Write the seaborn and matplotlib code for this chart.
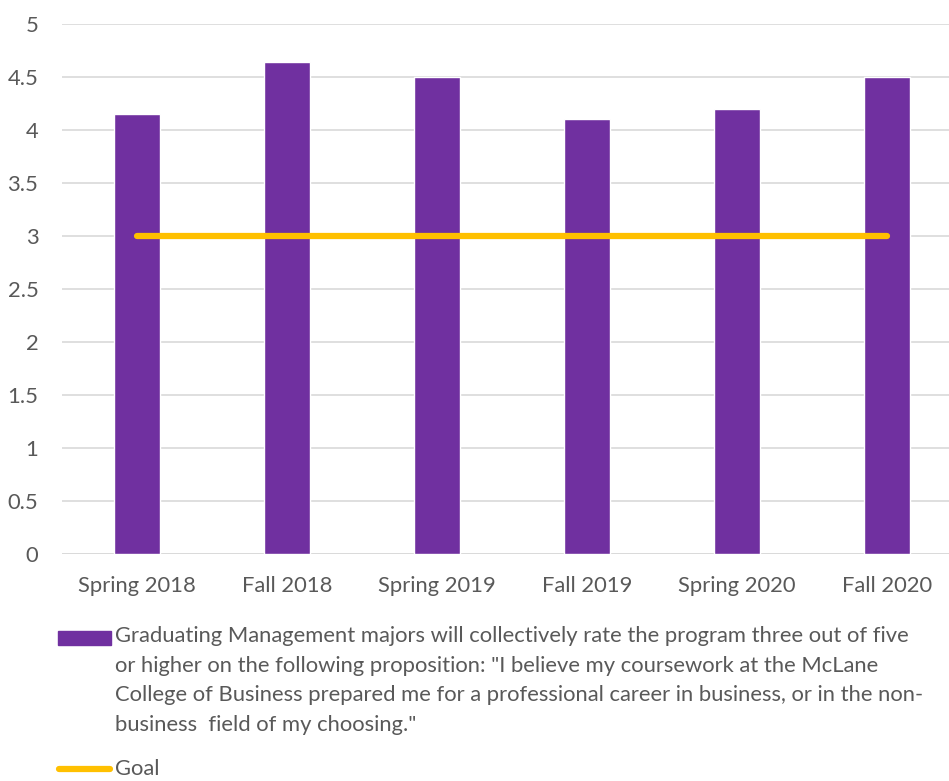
import matplotlib
matplotlib.use("Agg")
import matplotlib.pyplot as plt
from matplotlib.patches import Rectangle
from matplotlib.lines import Line2D
import seaborn as sns
import pandas as pd

terms = ["Spring 2018", "Fall 2018", "Spring 2019", "Fall 2019", "Spring 2020", "Fall 2020"]
ratings = [4.15, 4.64, 4.5, 4.1, 4.2, 4.5]
goal = [3, 3, 3, 3, 3, 3]
yticks = [0, 0.5, 1, 1.5, 2, 2.5, 3, 3.5, 4, 4.5, 5]
ytick_labels = ["0", "0.5", "1", "1.5", "2", "2.5", "3", "3.5", "4", "4.5", "5"]
bar_label = ("Graduating Management majors will collectively rate the program three out of five\n"
             "or higher on the following proposition: \"I believe my coursework at the McLane\n"
             "College of Business prepared me for a professional career in business, or in the non-\n"
             "business  field of my choosing.\"")
goal_label = "Goal"

PURPLE = "#7030A0"
GOLD = "#FFC000"
TEXT = "#595959"
FS = 15.8

sns.set_theme(style="white")
plt.rcParams["font.family"] = ["Lato", "DejaVu Sans"]

W, H = 949, 781
fig = plt.figure(figsize=(W / 100, H / 100), dpi=100)
# plot area in pixel terms: left 62, right 962 (runs past the edge), top 24, bottom 554
ax = fig.add_axes([62 / W, 1 - 554 / H, 900 / W, 530 / H])

df = pd.DataFrame({"term": terms, "rating": ratings})
sns.barplot(data=df, x="term", y="rating", color=PURPLE, width=0.31,
            saturation=1, ax=ax, zorder=2)
ax.plot(range(len(terms)), goal, color=GOLD, lw=4.5, solid_capstyle="round", zorder=3)

ax.set_xlim(-0.5, len(terms) - 0.5)
ax.set_ylim(0, 5)
ax.set_yticks(yticks)
ax.set_yticklabels(ytick_labels)
ax.yaxis.grid(True, color="#D9D9D9", lw=1.2, zorder=0)
ax.set_axisbelow(True)
for s in ax.spines.values():
    s.set_visible(False)
ax.axhline(0, color="#D9D9D9", lw=1.2, zorder=1)
ax.set_xlabel("")
ax.set_ylabel("")
ax.tick_params(axis="both", length=0, labelsize=FS, labelcolor=TEXT)
ax.tick_params(axis="x", pad=16)
ax.tick_params(axis="y", pad=17)

# legend drawn in figure coordinates
fig.patches.append(Rectangle((58 / W, 1 - 645 / H), 53 / W, 14 / H,
                             transform=fig.transFigure, color=PURPLE, figure=fig))
fig.text(115 / W, 1 - 626 / H, bar_label, ha="left", va="top", fontsize=FS,
         color=TEXT, linespacing=1.6)
fig.lines.append(Line2D([59 / W, 110 / W], [1 - 769 / H, 1 - 769 / H],
                        transform=fig.transFigure, color=GOLD, lw=4.5,
                        solid_capstyle="round", figure=fig))
fig.text(115 / W, 1 - 769 / H, goal_label, ha="left", va="center", fontsize=FS, color=TEXT)

fig.savefig("out.png", dpi=100)
